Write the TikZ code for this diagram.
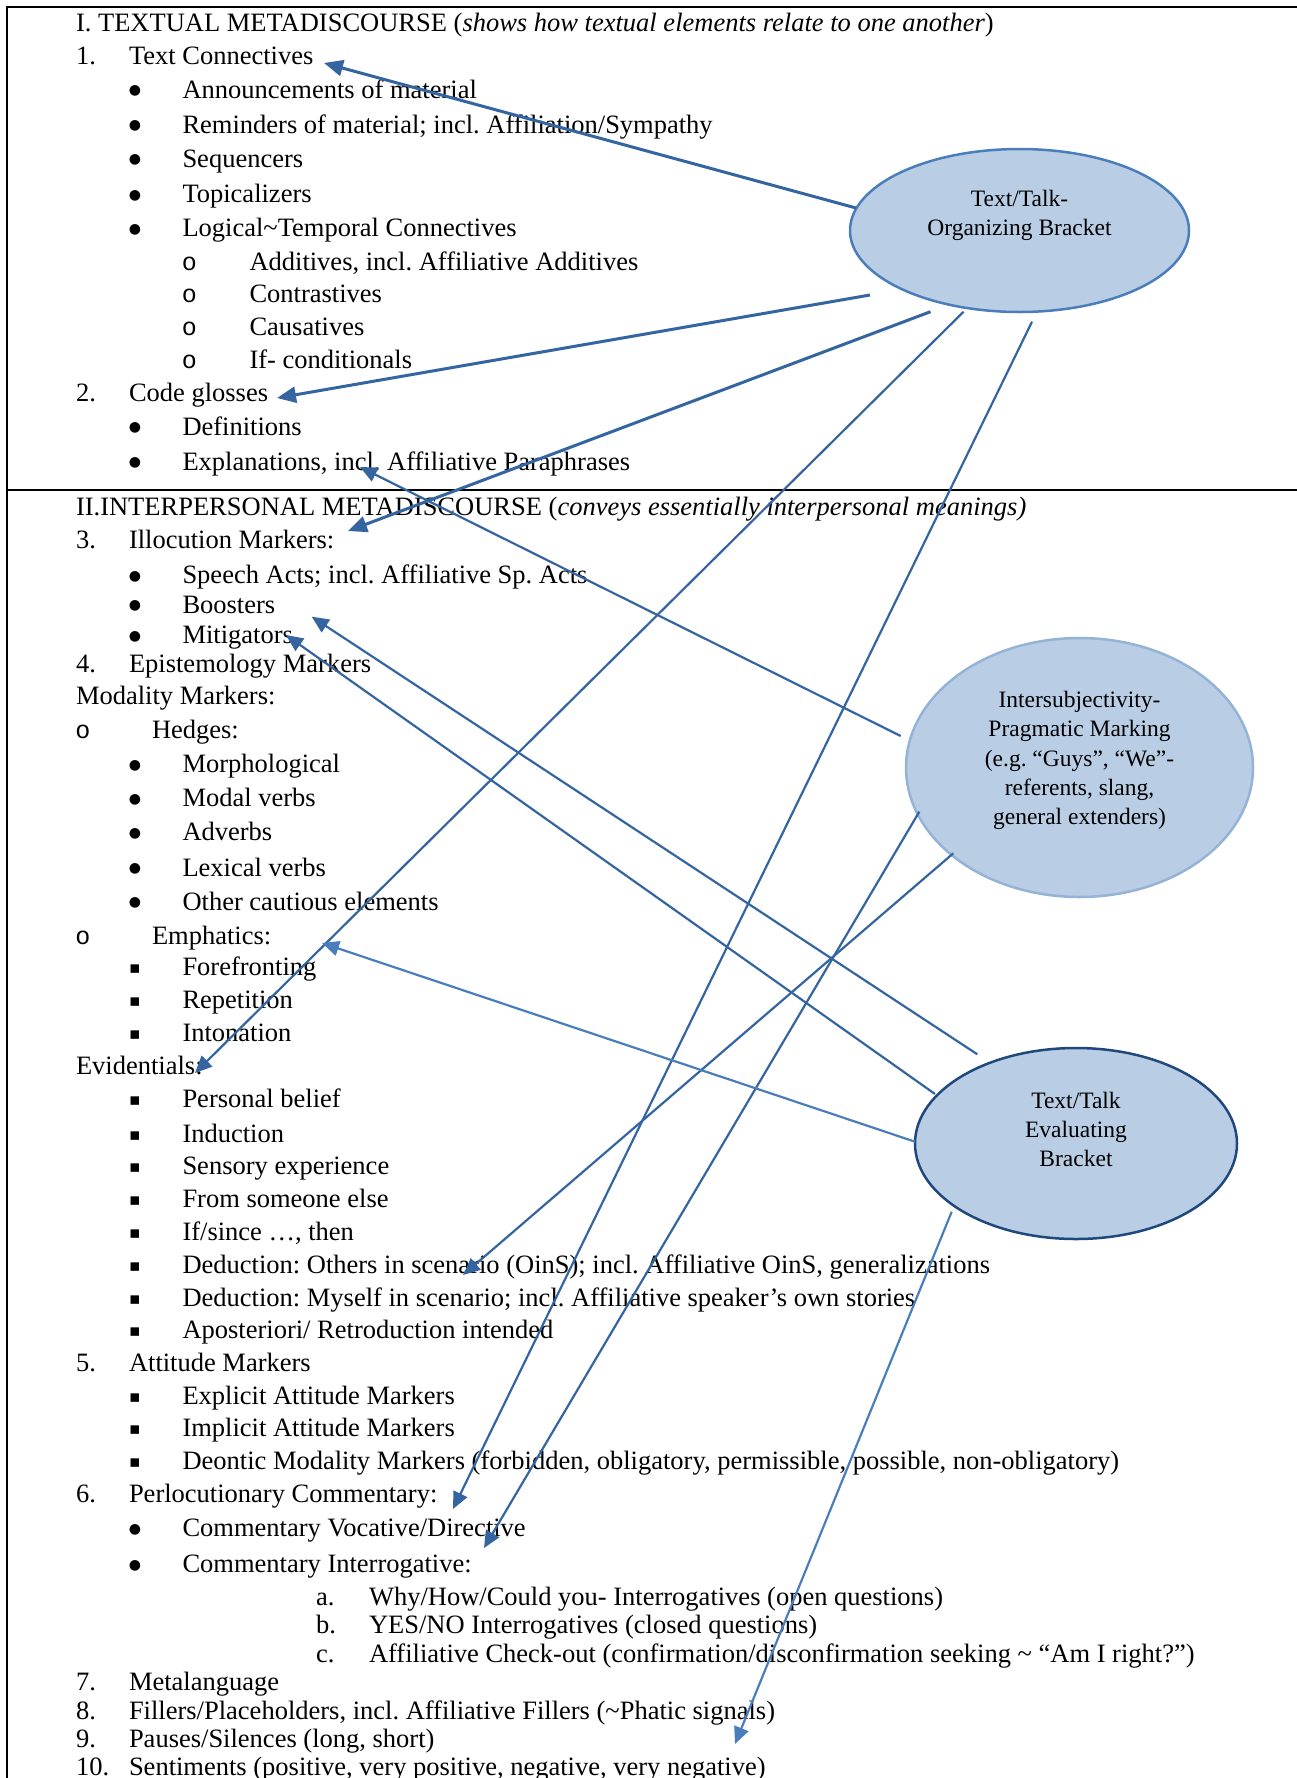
\documentclass[tikz,border=0pt]{standalone}
\usepackage{fontspec}
\setmainfont{Liberation Serif}
\newfontfamily\monofont{Liberation Mono}
\newfontfamily\symfont{DejaVu Sans}
\usetikzlibrary{shapes.geometric,arrows.meta}
\definecolor{efill}{HTML}{B9CDE5}
\definecolor{eoneb}{HTML}{4A7EBB}
\definecolor{etwob}{HTML}{95B3D7}
\definecolor{ethreeb}{HTML}{1F497D}
\definecolor{arrdark}{HTML}{3565A1}
\definecolor{arrlight}{HTML}{4A7EBB}
\begin{document}
\frenchspacing
\begin{tikzpicture}[x=1pt,y=-1pt,
  every node/.style={inner sep=0pt, outer sep=0pt},
  txt/.style={anchor=mid west, yshift=-6.5pt, font=\fontsize{26.5}{32}\selectfont},
  bul/.style={anchor=mid, yshift=-3pt, font=\symfont\fontsize{14}{18}\selectfont},
  sq/.style={anchor=mid, yshift=-4.5pt, font=\symfont\fontsize{17}{20}\selectfont},
  ob/.style={anchor=mid, yshift=-6.5pt, font=\monofont\fontsize{25}{30}\selectfont},
  ell/.style={ellipse, fill=efill, line width=2.5pt},
  etxt/.style={align=center, font=\fontsize{23.5}{29.3}\selectfont},
  arrA/.style={draw=arrdark, line width=3pt, -{Triangle[length=19pt,width=16pt]}},
  arrB/.style={draw=arrdark, line width=2.2pt, -{Triangle[length=17pt,width=15pt]}},
  arrC/.style={draw=arrlight, line width=2.2pt, -{Triangle[length=17pt,width=15pt]}},
  frame/.style={draw=black, line width=2pt}
]
\useasboundingbox (0,0) rectangle (1297,1778);

% frame
\coordinate (fbl) at (7,1778);
\coordinate (ftl) at (7,7);
\coordinate (ftr) at (1297,7);
\coordinate (fdl) at (7,490);
\coordinate (fdr) at (1297,490);
\draw[frame] (fbl) -- (ftl) -- (ftr);
\draw[frame] (fdl) -- (fdr);

% section I
\node[txt] (h1) at (76,22.7) {I. TEXTUAL METADISCOURSE (\textit{shows how textual elements relate to one another})};
\node[txt] (n1) at (76,55.6) {1.};
\node[txt] (t1) at (129,55.6) {Text Connectives};
\node[bul] (b2) at (135,89.6) {●};
\node[txt] (t2) at (182.5,89.6) {Announcements of material};
\node[bul] (b3) at (135,124.7) {●};
\node[txt] (t3) at (182.5,124.7) {Reminders of material; incl. Affiliation/Sympathy};
\node[bul] (b4) at (135,158.7) {●};
\node[txt] (t4) at (182.5,158.7) {Sequencers};
\node[bul] (b5) at (135,193.9) {●};
\node[txt] (t5) at (182.5,193.9) {Topicalizers};
\node[bul] (b6) at (135,227.9) {●};
\node[txt] (t6) at (182.5,227.9) {Logical\textasciitilde Temporal Connectives};
\node[ob] (o7) at (189.3,261.9) {o};
\node[txt] (t7) at (249.5,261.9) {Additives, incl. Affiliative Additives};
\node[ob] (o8) at (189.3,293.6) {o};
\node[txt] (t8) at (249.5,293.6) {Contrastives};
\node[ob] (o9) at (189.3,326.5) {o};
\node[txt] (t9) at (249.5,326.5) {Causatives};
\node[ob] (o10) at (189.3,359.4) {o};
\node[txt] (t10) at (249.5,359.4) {If- conditionals};
\node[txt] (n2) at (76,392.3) {2.};
\node[txt] (t11) at (129,392.3) {Code glosses};
\node[bul] (b12) at (135,426.3) {●};
\node[txt] (t12) at (182.5,426.3) {Definitions};
\node[bul] (b13) at (135,461.4) {●};
\node[txt] (t13) at (182.5,461.4) {Explanations, incl. Affiliative Paraphrases};

% section II
\node[txt] (h2) at (76,506.8) {II.INTERPERSONAL METADISCOURSE (\textit{conveys essentially interpersonal meanings)}};
\node[txt] (n3) at (76,539.6) {3.};
\node[txt] (t14) at (129,539.6) {Illocution Markers:};
\node[bul] (b15) at (135,574.8) {●};
\node[txt] (t15) at (182.5,574.8) {Speech Acts; incl. Affiliative Sp. Acts};
\node[bul] (b16) at (135,604.3) {●};
\node[txt] (t16) at (182.5,604.3) {Boosters};
\node[bul] (b17) at (135,634.9) {●};
\node[txt] (t17) at (182.5,634.9) {Mitigators};
\node[txt] (n4) at (76,663.2) {4.};
\node[txt] (t18) at (129,663.2) {Epistemology Markers};
\node[txt] (t19) at (76,696.1) {Modality Markers:};
\node[ob] (o20) at (82.8,730.1) {o};
\node[txt] (t20) at (152,730.1) {Hedges:};
\node[bul] (b21) at (135,764.1) {●};
\node[txt] (t21) at (182.5,764.1) {Morphological};
\node[bul] (b22) at (135,798.1) {●};
\node[txt] (t22) at (182.5,798.1) {Modal verbs};
\node[bul] (b23) at (135,832.1) {●};
\node[txt] (t23) at (182.5,832.1) {Adverbs};
\node[bul] (b24) at (135,867.3) {●};
\node[txt] (t24) at (182.5,867.3) {Lexical verbs};
\node[bul] (b25) at (135,901.3) {●};
\node[txt] (t25) at (182.5,901.3) {Other cautious elements};
\node[ob] (o26) at (82.8,935.3) {o};
\node[txt] (t26) at (152,935.3) {Emphatics:};
\node[sq] (q27) at (135,967.0) {▪};
\node[txt] (t27) at (182.5,967.0) {Forefronting};
\node[sq] (q28) at (135,999.9) {▪};
\node[txt] (t28) at (182.5,999.9) {Repetition};
\node[sq] (q29) at (135,1032.8) {▪};
\node[txt] (t29) at (182.5,1032.8) {Intonation};
\node[txt] (t30) at (76,1065.7) {Evidentials:};
\node[sq] (q31) at (135,1098.9) {▪};
\node[txt] (t31) at (182.5,1098.9) {Personal belief};
\node[sq] (q32) at (135,1133.3) {▪};
\node[txt] (t32) at (182.5,1133.3) {Induction};
\node[sq] (q33) at (135,1165.3) {▪};
\node[txt] (t33) at (182.5,1165.3) {Sensory experience};
\node[sq] (q34) at (135,1198.3) {▪};
\node[txt] (t34) at (182.5,1198.3) {From someone else};
\node[sq] (q35) at (135,1231.7) {▪};
\node[txt] (t35) at (182.5,1231.7) {If/since …, then};
\node[sq] (q36) at (135,1264.7) {▪};
\node[txt] (t36) at (182.5,1264.7) {Deduction: Others in scenario (OinS); incl. Affiliative OinS, generalizations};
\node[sq] (q37) at (135,1297.2) {▪};
\node[txt] (t37) at (182.5,1297.2) {Deduction: Myself in scenario; incl. Affiliative speaker’s own stories};
\node[sq] (q38) at (135,1330.1) {▪};
\node[txt] (t38) at (182.5,1330.1) {Aposteriori/ Retroduction intended};
\node[txt] (n5) at (76,1363.1) {5.};
\node[txt] (t39) at (129,1363.1) {Attitude Markers};
\node[sq] (q40) at (135,1395.6) {▪};
\node[txt] (t40) at (182.5,1395.6) {Explicit Attitude Markers};
\node[sq] (q41) at (135,1427.7) {▪};
\node[txt] (t41) at (182.5,1427.7) {Implicit Attitude Markers};
\node[sq] (q42) at (135,1461.1) {▪};
\node[txt] (t42) at (182.5,1461.1) {Deontic Modality Markers (forbidden, obligatory, permissible, possible, non-obligatory)};
\node[txt] (n6) at (76,1494.1) {6.};
\node[txt] (t43) at (129,1494.1) {Perlocutionary Commentary:};
\node[bul] (b44) at (135,1528) {●};
\node[txt] (t44) at (182.5,1528) {Commentary Vocative/Directive};
\node[bul] (b45) at (135,1563.7) {●};
\node[txt] (t45) at (182.5,1563.7) {Commentary Interrogative:};
\node[txt] (la) at (316,1596.6) {a.};
\node[txt] (t46) at (369,1596.6) {Why/How/Could you- Interrogatives (open questions)};
\node[txt] (lb) at (316,1624.6) {b.};
\node[txt] (t47) at (369,1624.6) {YES/NO Interrogatives (closed questions)};
\node[txt] (lc) at (316,1653.4) {c.};
\node[txt] (t48) at (369,1653.4) {Affiliative Check-out (confirmation/disconfirmation seeking \textasciitilde\ “Am I right?”)};
\node[txt] (n7) at (76,1681.8) {7.};
\node[txt] (t49) at (129,1681.8) {Metalanguage};
\node[txt] (n8) at (76,1710.2) {8.};
\node[txt] (t50) at (129,1710.2) {Fillers/Placeholders, incl. Affiliative Fillers (\textasciitilde Phatic signals)};
\node[txt] (n9) at (76,1739) {9.};
\node[txt] (t51) at (129,1739) {Pauses/Silences (long, short)};
\node[txt] (n10) at (76,1766.5) {10.};
\node[txt] (t52) at (129,1766.5) {Sentiments (positive, very positive, negative, very negative)};

% ellipses
\node[ell, draw=eoneb, minimum width=339pt, minimum height=163pt] (e1) at (1019.5,230.5) {};
\node[etxt] (e1t) at (1019.5,215.5) {Text/Talk-\\Organizing Bracket};
\node[ell, draw=etwob, minimum width=347pt, minimum height=259pt] (e2) at (1079.5,767.5) {};
\node[etxt] (e2t) at (1079.5,760.4) {Intersubjectivity-\\Pragmatic Marking\\(e.g. “Guys”, “We”-\\referents, slang,\\general extenders)};
\node[ell, draw=ethreeb, minimum width=322pt, minimum height=191pt] (e3) at (1076,1143.5) {};
\node[etxt] (e3t) at (1076,1129.4) {Text/Talk\\Evaluating\\Bracket};

% connector ends
\coordinate (s1) at (856,208);     \coordinate (p1) at (324,63);
\coordinate (s2) at (870,295);     \coordinate (p2) at (277,398);
\coordinate (s3) at (930.5,311.7); \coordinate (p3) at (348,531);
\coordinate (s4) at (963.6,311.7); \coordinate (p4) at (195,1073);
\coordinate (s5) at (1032,321.7);  \coordinate (p5) at (453,1509);
\coordinate (s6) at (900.7,736);   \coordinate (p6) at (360,467);
\coordinate (s7) at (919.3,811.7); \coordinate (p7) at (484,1548);
\coordinate (s8) at (953.3,853.3); \coordinate (p8) at (463,1275);
\coordinate (s9) at (977.3,1054.3); \coordinate (p9) at (311.7,616.7);
\coordinate (s10) at (935,1094);   \coordinate (p10) at (286,635);
\coordinate (s11) at (915,1141.7); \coordinate (p11) at (322,943);
\coordinate (s12) at (951.7,1211.7); \coordinate (p12) at (735,1744);

% connectors
\draw[arrA] (s1) -- (p1);
\draw[arrA] (s2) -- (p2);
\draw[arrA] (s3) -- (p3);
\draw[arrB] (s4) -- (p4);
\draw[arrB] (s5) -- (p5);
\draw[arrB] (s6) -- (p6);
\draw[arrB] (s7) -- (p7);
\draw[arrB] (s8) -- (p8);
\draw[arrB] (s9) -- (p9);
\draw[arrB] (s10) -- (p10);
\draw[arrC] (s11) -- (p11);
\draw[arrC] (s12) -- (p12);
\end{tikzpicture}
\end{document}
